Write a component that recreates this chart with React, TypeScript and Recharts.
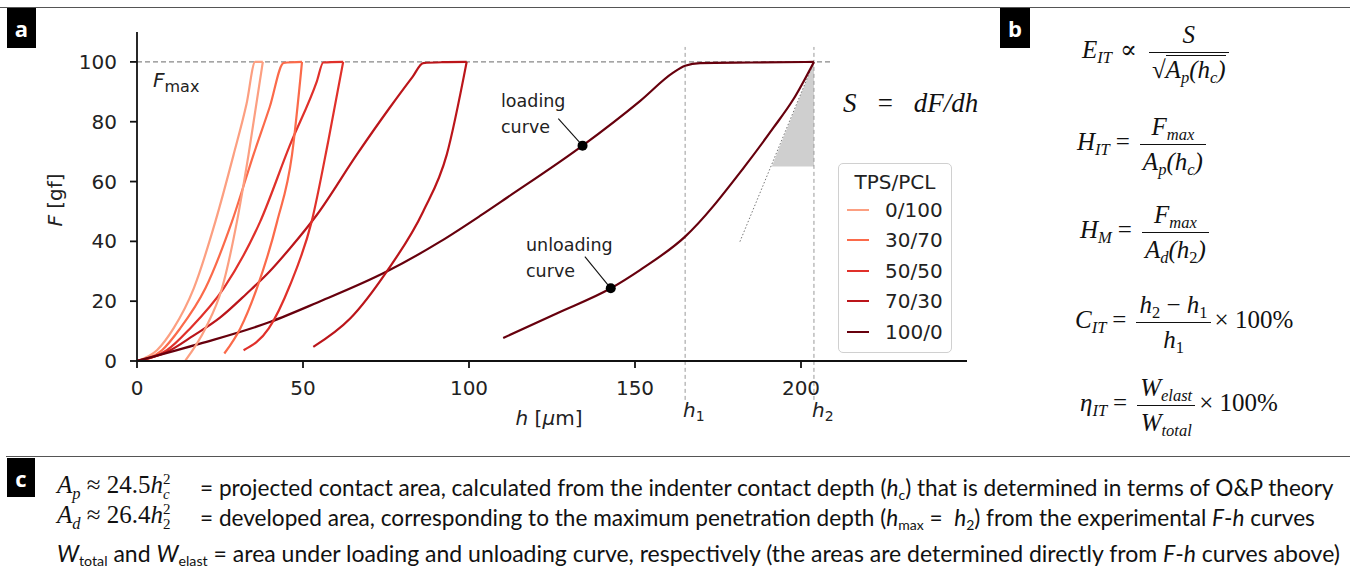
import React from 'react'
import {
    LineChart,
    Line,
    XAxis,
    YAxis,
    ReferenceLine,
    ReferenceDot,
    ReferenceArea,
} from 'recharts'

// F-h curves: [h (µm), F (gf)]
const SAMPLES = ['0/100', '30/70', '50/50', '70/30', '100/0']

const LOAD_0_100 = [[0, 0], [6, 3.6], [11, 10.9], [17.1, 24.3], [23.6, 46.6], [29.1, 69], [33, 86], [35.6, 100], [37.9, 100]]
const UNLOAD_0_100 = [[14.6, 0.2], [20.6, 10.9], [25.6, 24.3], [30.1, 46.6], [33.6, 69], [37.9, 100]]

const LOAD_30_70 = [[0, 0], [7.5, 3.6], [13, 10.9], [20.6, 24.3], [28.6, 46.6], [35.1, 69], [40, 85], [44.2, 99.7], [49.7, 100]]
const UNLOAD_30_70 = [[26.3, 2.5], [31.1, 10.9], [36.1, 24.3], [42.2, 46.6], [46.7, 69], [49.7, 100]]

const LOAD_50_50 = [[0, 0], [9, 3.6], [16, 10.9], [26.1, 24.3], [37.1, 46.6], [46, 72], [54.2, 93.6], [56.1, 99.8], [62.1, 100]]
const UNLOAD_50_50 = [[32.1, 3.6], [39.7, 10.9], [46.1, 25.4], [52.6, 46.6], [57.6, 73.5], [62.1, 100]]

const LOAD_70_30 = [[0, 0], [9, 3], [17, 8.5], [25, 14.5], [33, 22.5], [40, 30], [46.1, 37.7], [54.2, 48.9], [66.2, 69], [76, 84.5], [83, 95], [86.2, 99.6], [92, 99.9], [99.3, 100]]
const UNLOAD_70_30 = [[53.1, 4.7], [64.2, 14.2], [75.2, 29.9], [86.2, 50], [93.3, 69], [99.3, 100]]

const LOAD_100_0 = [[0, 0], [19, 5.8], [40.2, 13.1], [54.2, 19.5], [75.2, 29.9], [91.3, 39.9], [103.3, 48.5], [111.3, 54.5], [134.2, 72], [151.5, 86.9], [161.5, 96.4], [165.1, 98.7], [169.6, 99.6], [185, 99.8], [203.9, 100]]
const UNLOAD_100_0 = [[110.3, 7.7], [126.4, 15.9], [142.7, 24.3], [151.5, 30.4], [165.1, 41.6], [183, 65], [191.7, 78], [197.7, 87.5], [203.9, 100]]

const LOADING = [LOAD_0_100, LOAD_30_70, LOAD_50_50, LOAD_70_30, LOAD_100_0]
const UNLOADING = [UNLOAD_0_100, UNLOAD_30_70, UNLOAD_50_50, UNLOAD_70_30, UNLOAD_100_0]

const X_TICKS = [0, 50, 100, 150, 200]
const Y_TICKS = [0, 20, 40, 60, 80, 100]

const H1 = 165.1
const H2 = 203.9
const F_MAX = 100
const LOADING_DOT = { h: 134.2, F: 72 }
const UNLOADING_DOT = { h: 142.7, F: 24.3 }
const LOADING_LEADER = { h: 126.9, F: 81 }
const UNLOADING_LEADER = { h: 134.9, F: 34.9 }
const TANGENT_START = { h: 181.6, F: 39.9 }
const TANGENT_FOOT = { h: 191.2, F: 65 }

const COLORS = ['#fc9f81', '#fb6a4a', '#e0302a', '#bb151a', '#67000d']

const toPts = (arr: number[][]) => arr.map(([h, F]) => ({ h, F }))

const SANS = '"DejaVu Sans", sans-serif'
const SERIF = '"Liberation Serif", "DejaVu Serif", serif'
const BODY = 'Lato, "Open Sans", sans-serif'

function Tag({ label, left, top, w, h }: any) {
    return (
        <div style={{ position: 'absolute', left, top, width: w, height: h, background: '#000', color: '#fff', fontFamily: '"Open Sans", sans-serif', fontWeight: 700, fontSize: 22, display: 'flex', alignItems: 'center', justifyContent: 'center' }}>
            {label}
        </div>
    )
}

const sub = (t: React.ReactNode, italic = true) => (
    <span style={{ fontSize: '0.66em', verticalAlign: '-0.32em', lineHeight: 0, fontStyle: italic ? 'italic' : 'normal' }}>{t}</span>
)

const small = (t: React.ReactNode) => (
    <span style={{ fontSize: '0.62em', verticalAlign: '-0.3em', lineHeight: 0 }}>{t}</span>
)

function Frac({ num, den }: any) {
    return (
        <span style={{ display: 'inline-flex', flexDirection: 'column', alignItems: 'center', verticalAlign: 'middle', margin: '0 4px' }}>
            <span style={{ padding: '0 3px 3px', lineHeight: 1.1 }}>{num}</span>
            <span style={{ borderTop: '1.5px solid #111', alignSelf: 'stretch', textAlign: 'center', padding: '3px 3px 0', lineHeight: 1.1 }}>{den}</span>
        </span>
    )
}

function Formula({ left, y, children }: any) {
    return (
        <div style={{ position: 'absolute', left, top: y, transform: 'translateY(-50%)', fontFamily: SERIF, fontSize: 25, color: '#111', whiteSpace: 'nowrap', lineHeight: 1.2 }}>
            {children}
        </div>
    )
}

const triangle = (props: any) => {
    const { x, y, width, height } = props
    return <polygon points={`${x},${y + height} ${x + width},${y + height} ${x + width},${y}`} fill="#cfcfcf" />
}

export default function App() {
    return (
        <div style={{ position: 'absolute', left: 0, top: 0, width: 1350, height: 584, background: '#fff', overflow: 'hidden', color: '#111' }}>
            <div style={{ position: 'absolute', left: 0, top: 7, width: 1350, borderTop: '1.5px solid #555' }} />
            <div style={{ position: 'absolute', left: 6, top: 456, width: 1344, borderTop: '1.5px solid #555' }} />
            <Tag label="a" left={7} top={8} w={29} h={40} />
            <Tag label="b" left={1000} top={8} w={30} h={40} />
            <Tag label="c" left={7} top={458} w={28} h={39} />

            <div style={{ position: 'absolute', left: 0, top: 0 }}>
                <LineChart width={1000} height={440} margin={{ top: 32, right: 33, bottom: 49, left: 77 }}>
                    <XAxis
                        dataKey="h"
                        type="number"
                        domain={[0, 250]}
                        ticks={X_TICKS}
                        tick={{ fill: '#222', fontSize: 20, fontFamily: SANS }}
                        tickSize={7}
                        tickMargin={13}
                        height={30}
                        stroke="#111"
                        strokeWidth={1.8}
                        allowDataOverflow
                    />
                    <YAxis
                        dataKey="F"
                        type="number"
                        domain={[0, 110]}
                        ticks={Y_TICKS}
                        tick={{ fill: '#222', fontSize: 20, fontFamily: SANS }}
                        tickSize={7}
                        tickMargin={13}
                        width={60}
                        stroke="#111"
                        strokeWidth={1.8}
                        allowDataOverflow
                    />
                    <ReferenceArea x1={TANGENT_FOOT.h} x2={H2} y1={TANGENT_FOOT.F} y2={F_MAX} shape={triangle} ifOverflow="visible" />
                    <ReferenceLine segment={[{ x: 0, y: F_MAX }, { x: 209, y: F_MAX }]} stroke="#888" strokeDasharray="5 3" strokeWidth={1.3} ifOverflow="visible" />
                    <ReferenceLine segment={[{ x: H1, y: -13 }, { x: H1, y: 105 }]} stroke="#999" strokeDasharray="4 3" strokeWidth={1} ifOverflow="visible" />
                    <ReferenceLine segment={[{ x: H2, y: -13 }, { x: H2, y: 105 }]} stroke="#999" strokeDasharray="4 3" strokeWidth={1} ifOverflow="visible" />
                    <ReferenceLine segment={[{ x: TANGENT_START.h, y: TANGENT_START.F }, { x: H2, y: F_MAX }]} stroke="#777" strokeDasharray="1.5 2" strokeWidth={1} ifOverflow="visible" />
                    {LOADING.map((d, i) => (
                        <Line key={'l' + i} data={toPts(d)} dataKey="F" type="monotone" stroke={COLORS[i]} strokeWidth={2.2} dot={false} isAnimationActive={false} />
                    ))}
                    {UNLOADING.map((d, i) => (
                        <Line key={'u' + i} data={toPts(d)} dataKey="F" type="monotone" stroke={COLORS[i]} strokeWidth={2.2} dot={false} isAnimationActive={false} />
                    ))}
                    <ReferenceLine segment={[{ x: LOADING_LEADER.h, y: LOADING_LEADER.F }, { x: LOADING_DOT.h, y: LOADING_DOT.F }]} stroke="#111" strokeWidth={1.1} />
                    <ReferenceLine segment={[{ x: UNLOADING_LEADER.h, y: UNLOADING_LEADER.F }, { x: UNLOADING_DOT.h, y: UNLOADING_DOT.F }]} stroke="#111" strokeWidth={1.1} />
                    <ReferenceDot x={LOADING_DOT.h} y={LOADING_DOT.F} r={5} fill="#000" stroke="none" />
                    <ReferenceDot x={UNLOADING_DOT.h} y={UNLOADING_DOT.F} r={5} fill="#000" stroke="none" />
                </LineChart>
            </div>

            {/* axis labels and in-plot text */}
            <div style={{ position: 'absolute', left: 55, top: 200, transform: 'translate(-50%, -50%) rotate(-90deg)', fontFamily: SANS, fontSize: 20, color: '#222', whiteSpace: 'nowrap' }}>
                <i>F</i> [gf]
            </div>
            <div style={{ position: 'absolute', left: 549, top: 418, transform: 'translate(-50%, -50%)', fontFamily: SANS, fontSize: 20, color: '#222', whiteSpace: 'nowrap' }}>
                <i>h</i> [<i>μ</i>m]
            </div>
            <div style={{ position: 'absolute', left: 683, top: 398, fontFamily: SANS, fontSize: 20, color: '#222' }}>
                <i>h</i><span style={{ fontSize: 14, verticalAlign: '-0.3em' }}>1</span>
            </div>
            <div style={{ position: 'absolute', left: 812, top: 398, fontFamily: SANS, fontSize: 20, color: '#222' }}>
                <i>h</i><span style={{ fontSize: 14, verticalAlign: '-0.3em' }}>2</span>
            </div>
            <div style={{ position: 'absolute', left: 153, top: 68, fontFamily: SANS, fontSize: 20, color: '#222' }}>
                <i>F</i><span style={{ fontSize: 16, verticalAlign: '-0.3em' }}>max</span>
            </div>
            <div style={{ position: 'absolute', left: 501, top: 88, fontFamily: SANS, fontSize: 17.5, color: '#222', lineHeight: '26px' }}>
                loading<br />curve
            </div>
            <div style={{ position: 'absolute', left: 526, top: 232, fontFamily: SANS, fontSize: 17.5, color: '#222', lineHeight: '26px' }}>
                unloading<br />curve
            </div>
            <div style={{ position: 'absolute', left: 843, top: 103, transform: 'translateY(-50%)', fontFamily: SERIF, fontSize: 27, fontStyle: 'italic', color: '#111', whiteSpace: 'pre', wordSpacing: 3 }}>
                {'S  =  dF/dh'}
            </div>

            {/* legend */}
            <div style={{ position: 'absolute', left: 838, top: 163, width: 112, height: 188, border: '1.3px solid #d0d0d0', borderRadius: 5, fontFamily: SANS, fontSize: 20, color: '#222' }}>
                <div style={{ position: 'absolute', left: 0, right: 0, top: 6, textAlign: 'center' }}>TPS/PCL</div>
                {SAMPLES.map((s, i) => (
                    <div key={s} style={{ position: 'absolute', left: 8, top: 33 + i * 30.4, display: 'flex', alignItems: 'center', height: 26 }}>
                        <span style={{ width: 22, height: 0, borderTop: `2.6px solid ${COLORS[i]}`, marginRight: 16 }} />
                        <span>{s}</span>
                    </div>
                ))}
            </div>

            {/* panel b */}
            <Formula left={1082} y={52}>
                <i>E</i>{sub('IT')}<span style={{ margin: '0 8px' }}>∝</span>
                <Frac num={<i>S</i>} den={<span>√<span style={{ borderTop: '1.3px solid #111', fontStyle: 'italic' }}>A{sub('p')}(h{sub('c')})</span></span>} />
            </Formula>
            <Formula left={1077} y={144}>
                <i>H</i>{sub('IT')}<span style={{ margin: '0 6px' }}>=</span>
                <Frac num={<i>F{sub('max')}</i>} den={<i>A{sub('p')}(h{sub('c')})</i>} />
            </Formula>
            <Formula left={1080} y={232}>
                <i>H</i>{sub('M')}<span style={{ margin: '0 6px' }}>=</span>
                <Frac num={<i>F{sub('max')}</i>} den={<i>A{sub('d')}(h{sub('2', false)})</i>} />
            </Formula>
            <Formula left={1075} y={322}>
                <i>C</i>{sub('IT')}<span style={{ margin: '0 6px' }}>=</span>
                <Frac num={<span><i>h</i>{sub('2', false)} − <i>h</i>{sub('1', false)}</span>} den={<span><i>h</i>{sub('1', false)}</span>} />
                <span>× 100%</span>
            </Formula>
            <Formula left={1080} y={405}>
                <i>η</i>{sub('IT')}<span style={{ margin: '0 6px' }}>=</span>
                <Frac num={<i>W{sub('elast')}</i>} den={<i>W{sub('total')}</i>} />
                <span>× 100%</span>
            </Formula>

            {/* panel c */}
            <div style={{ position: 'absolute', left: 57, top: 487, transform: 'translateY(-50%)', fontFamily: SERIF, fontSize: 25, whiteSpace: 'nowrap' }}>
                <i>A</i>{sub('p')} ≈ 24.5<i>h</i>
                <span style={{ display: 'inline-flex', flexDirection: 'column', fontSize: 15, lineHeight: 1, verticalAlign: 'middle' }}><span>2</span><i>c</i></span>
            </div>
            <div style={{ position: 'absolute', left: 200, top: 487, transform: 'translateY(-50%)', fontFamily: BODY, fontSize: 22.6, whiteSpace: 'nowrap' }}>
                = projected contact area, calculated from the indenter contact depth (<i>h</i>{small('c')}) that is determined in terms of O&amp;P theory
            </div>
            <div style={{ position: 'absolute', left: 57, top: 517, transform: 'translateY(-50%)', fontFamily: SERIF, fontSize: 25, whiteSpace: 'nowrap' }}>
                <i>A</i>{sub('d')} ≈ 26.4<i>h</i>
                <span style={{ display: 'inline-flex', flexDirection: 'column', fontSize: 15, lineHeight: 1, verticalAlign: 'middle' }}><span>2</span><span>2</span></span>
            </div>
            <div style={{ position: 'absolute', left: 200, top: 517, transform: 'translateY(-50%)', fontFamily: BODY, fontSize: 22.6, whiteSpace: 'pre' }}>
                = developed area, corresponding to the maximum penetration depth (<i>h</i>{small('max')} {'=  '}<i>h</i>{small('2')}) from the experimental <i>F</i>-<i>h</i> curves
            </div>
            <div style={{ position: 'absolute', left: 57, top: 553, transform: 'translateY(-50%)', fontFamily: BODY, fontSize: 23, whiteSpace: 'nowrap' }}>
                <i>W</i>{small('total')} and <i>W</i>{small('elast')} = area under loading and unloading curve, respectively (the areas are determined directly from <i>F</i>-<i>h</i> curves above)
            </div>
        </div>
    )
}
